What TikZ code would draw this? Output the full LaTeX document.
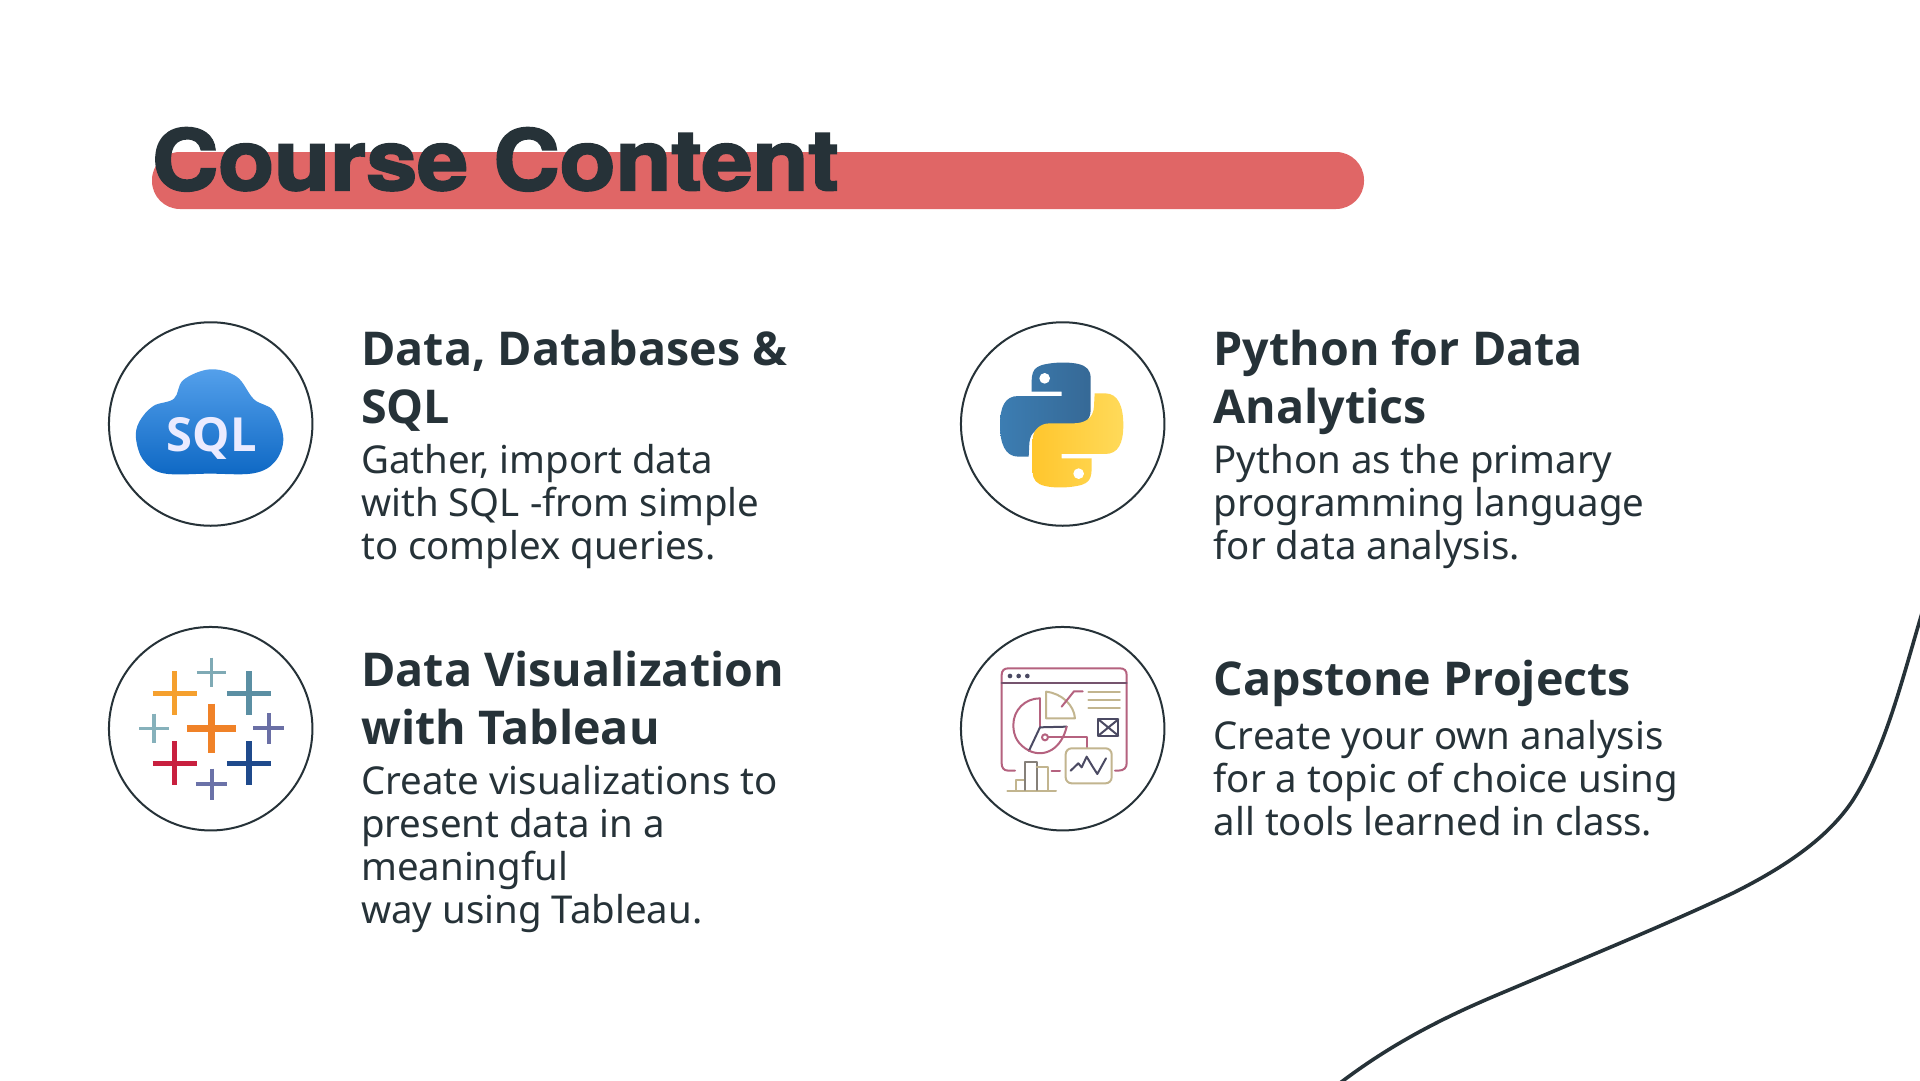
\documentclass[tikz,border=0pt]{standalone}
\usepackage{fontspec}
\setmainfont{Noto Sans}
\newfontfamily\headfont{Open Sans}
\newfontfamily\titlefont[FakeStretch=1.09,BoldFeatures={FakeBold=2.6}]{TeX Gyre Heros}
\usetikzlibrary{shadings}
\definecolor{inkdark}{HTML}{263238}
\definecolor{barred}{HTML}{E06666}
\definecolor{iconpink}{HTML}{B5627F}
\definecolor{icontan}{HTML}{C2B58F}
\definecolor{icondark}{HTML}{4B4A63}
\tikzset{
  ring/.style={circle, draw=inkdark, line width=2pt, minimum size=203.5pt, inner sep=0pt},
  headtext/.style={anchor=north west, inner sep=0pt, align=left, text=inkdark,
    font=\fontsize{46.6}{57.5}\selectfont\headfont\bfseries},
  bodytext/.style={anchor=north west, inner sep=0pt, align=left, text=inkdark,
    font=\fontsize{38.4}{43}\selectfont},
  iconline/.style={line width=2pt, line cap=round, line join=round},
}
\newcommand{\snakepath}{(245,245) .. controls (245,195) and (240,170) .. (290,162)
  .. controls (320,156) and (360,156) .. (385,162) .. controls (410,168) and (422,180) .. (422,205)
  -- (422,300) .. controls (422,330) and (400,350) .. (370,350) -- (300,350)
  .. controls (265,350) and (240,365) .. (238,400) -- (236,440) -- (205,440)
  .. controls (165,440) and (150,400) .. (150,345) .. controls (150,290) and (165,258) .. (205,258)
  -- (335,258) -- (335,245) -- cycle}

\begin{document}
\begin{tikzpicture}[x=1pt, y=-1pt]
\useasboundingbox[fill=white] (0,0) rectangle (1920,1080);

% title
\fill[barred, rounded corners=28pt] (152,152) rectangle (1364,209);
\node[anchor=base west, inner sep=0pt, text=inkdark, font=\fontsize{84}{84}\selectfont\titlefont\bfseries]
  (title) at (152,190) {Course Content};

% wave
\draw[inkdark, line width=3.6pt] (1340,1083) .. controls (1390,1045) and (1440,1019) .. (1497,995)
  .. controls (1575,962) and (1670,923) .. (1733,893) .. controls (1785,867) and (1828,838) .. (1853,800)
  .. controls (1885,750) and (1902,680) .. (1922,613);

% rings
\node[ring] (sqlring) at (210.7,424) {};
\node[ring] (pyring) at (1062.7,424) {};
\node[ring] (tabring) at (210.7,728.7) {};
\node[ring] (capring) at (1062.7,728.7) {};

% texts
\node[headtext] (sqlhead) at (361,330) {Data, Databases \&\\SQL};
\node[bodytext] (sqlbody) at (361,444) {Gather, import data\\with SQL -from simple\\to complex queries.};
\node[headtext] (pyhead) at (1213.5,330) {Python for Data\\Analytics};
\node[bodytext] (pybody) at (1213.5,444) {Python as the primary\\programming language\\for data analysis.};
\node[headtext] (tabhead) at (361,651) {Data Visualization\\with Tableau};
\node[bodytext] (tabbody) at (361,765) {Create visualizations to\\present data in a\\meaningful\\way using Tableau.};
\node[headtext] (caphead) at (1213.5,660) {Capstone Projects};
\node[bodytext] (capbody) at (1213.5,720) {Create your own analysis\\for a topic of choice using\\all tools learned in class.};

% sql cloud
\begin{scope}[shift={(100,310)}, x=0.3333pt, y=-0.3333pt]
\shade[top color={rgb,255:red,84;green,160;blue,235}, bottom color={rgb,255:red,14;green,104;blue,196}]
  plot[smooth cycle, tension=.6] coordinates {(108,385) (118,335) (160,288) (222,266) (250,210) (330,178) (410,200) (462,268) (520,302) (550,385) (525,455) (460,490) (330,491) (190,490) (130,450)};
\node[text=white!92!blue, font=\fontsize{47}{47}\selectfont\headfont\bfseries, inner sep=0pt] (sqllabel) at (335,386) {SQL};
\end{scope}

% python snake
\begin{scope}[shift={(950,310)}, x=0.3333pt, y=-0.3333pt]
\shade[left color={rgb,255:red,60;green,125;blue,178}, right color={rgb,255:red,54;green,105;blue,150}] \snakepath;
\shade[rotate around={180:(335,345)}, right color={rgb,255:red,255;green,218;blue,90}, left color={rgb,255:red,255;green,198;blue,45}] \snakepath;
\fill[white] (284,205) circle (16);
\fill[white] (386,491) circle (16);
\end{scope}

% tableau crosses
\begin{scope}[shift={(100,620)}, x=0.3333pt, y=-0.3333pt]
\foreach \cx/\cy/\arm/\wd/\col in {
  335/157/44/3.6/7FAAB5, 224/220/66/5.6/F5A02E, 447/220/66/5.6/5B8FA3,
  335/325/74/7/F08228, 162/325/44/3.6/86B1BB, 506/325/46/4.2/6A6FA5,
  224/430/66/5.6/C8203F, 447/430/66/5.6/1F4A8C, 335/493/47/4.2/6B72A8}
{
  \definecolor{armcol}{HTML}{\col}
  \draw[armcol, line width=\wd pt] (\cx-\arm,\cy) -- (\cx+\arm,\cy);
  \draw[armcol, line width=\wd pt] (\cx,\cy-\arm) -- (\cx,\cy+\arm);
}
\end{scope}

% capstone dashboard
\begin{scope}[shift={(950,620)}, x=0.3333pt, y=-0.3333pt]
\draw[iconline, iconpink] (195,452) -- (175,452) .. controls (160,452) and (155,442) .. (155,430)
  -- (155,165) .. controls (155,152) and (162,145) .. (175,145) -- (510,145)
  .. controls (523,145) and (530,152) .. (530,165) -- (530,430)
  .. controls (530,442) and (523,452) .. (505,452) -- (495,452);
\draw[iconline, icondark!60!iconpink] (155,190) -- (530,190);
\foreach \dotx in {180,206,232} \fill[icondark] (\dotx,168) circle (7);
\draw[iconline, iconpink] (305,452) -- (330,452);
% pie
\draw[iconline, iconpink] (270,235) .. controls (225,235) and (190,270) .. (190,315)
  .. controls (190,350) and (205,375) .. (237,392);
\draw[iconline, iconpink] (270,235) -- (270,322);
\draw[iconline, icondark] (270,322) -- (237,392);
\draw[iconline, icondark] (270,322) -- (350,320);
\draw[iconline, iconpink] (237,392) .. controls (285,415) and (335,385) .. (350,320);
\draw[iconline, iconpink] (285,352) circle (9);
\draw[iconline, iconpink] (294,352) -- (410,352) -- (410,382);
\draw[iconline, icontan] (288,215) -- (288,295) -- (375,295) .. controls (372,255) and (335,220) .. (288,215);
\draw[iconline, iconpink] (335,260) -- (372,214) -- (398,214);
\foreach \liney in {215,240,265} \draw[iconline, icontan] (415,\liney) -- (510,\liney);
% small box
\draw[iconline, icondark] (445,298) rectangle (505,347);
\draw[iconline, icondark] (445,298) -- (505,347) (505,298) -- (445,347);
% chart box
\draw[iconline, icontan, rounded corners=6pt] (347,385) rectangle (485,490);
\draw[iconline, icondark] (362,452) -- (385,430) -- (395,442) -- (410,410) -- (428,440) -- (442,462) -- (468,415);
% bars
\draw[iconline, icontan] (172,512) -- (318,512);
\draw[iconline, icontan] (198,510) -- (198,480) -- (225,480);
\draw[iconline, icondark!50!icontan] (225,510) -- (225,425) -- (260,425) -- (260,510);
\draw[iconline, icontan] (260,440) -- (295,440) -- (295,510);
\end{scope}
\end{tikzpicture}
\end{document}
